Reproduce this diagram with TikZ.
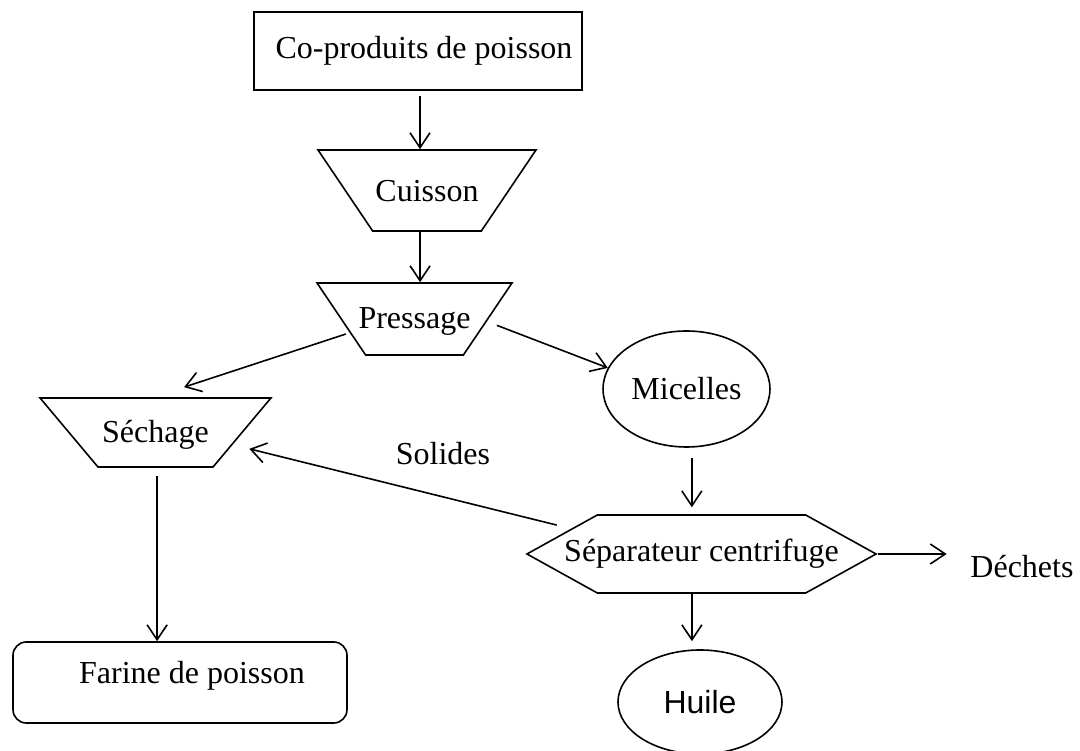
\documentclass[tikz,border=0pt]{standalone}
\usepackage{fontspec}
\setmainfont{Liberation Serif}
\newfontfamily\arialfont{Liberation Sans}
\usetikzlibrary{shapes.geometric,shapes.symbols,arrows.meta}

\begin{document}
\begin{tikzpicture}[x=0.375pt,y=-0.375pt,line width=0.6pt,
		every node/.style={font=\fontsize{12}{14}\selectfont},
		proc/.style={draw,trapezium,shape border rotate=180,trapezium stretches body,inner sep=0pt},
		flow/.style={-{Straight Barb[length=5.6pt,width=7.5pt]}}]
		\useasboundingbox (0,0) rectangle (1080,751);
		\node [draw,minimum width=123pt,minimum height=29.25pt,inner sep=0pt] (cop) at (418,51) {\hspace*{4.5pt}Co-produits de poisson};
		\node [proc,minimum width=81.75pt,text height=19.5pt,text depth=10.9pt,trapezium angle=56] (cuis) at (427,190.5) {Cuisson};
		\node [proc,minimum width=73.1pt,inner xsep=-3pt,text height=16.9pt,text depth=10.1pt,trapezium angle=56] (press) at (414.5,319) {Pressage};
		\node [proc,minimum width=86.6pt,text height=16.55pt,text depth=9.35pt,trapezium angle=50] (sech) at (155.5,432.5) {Séchage};
		\node [draw,ellipse,minimum width=62.6pt,minimum height=43.5pt,inner sep=0pt] (mic) at (686.5,389) {Micelles};
		\node [draw,signal,signal to=east and west,signal pointer angle=58,minimum height=29.25pt,inner ysep=0pt,inner xsep=-12.4pt] (sep) at (701.5,554) {Séparateur centrifuge};
		\node [draw,ellipse,minimum width=61.5pt,minimum height=39pt,inner sep=0pt,font=\arialfont\fontsize{12}{14}\selectfont] (huile) at (700,702) {Huile};
		\node [draw,rounded corners=5pt,minimum width=125.25pt,minimum height=30.4pt,inner sep=0pt,text height=8pt,text depth=6.9pt] (far) at (180,682.5) {\hspace*{9pt}Farine de poisson};
		\node (dech) at (1022,567) {Déchets};
		\node (sol) at (443,454) {Solides};
		\draw [flow,shorten <=2pt] ([xshift=0.75pt]cop.south) -- ([xshift=0.75pt]cop.south |- cuis.north);
		\draw [flow] ([xshift=-2.6pt]cuis.south) -- ([xshift=-2.6pt]cuis.south |- press.north);
		\draw [flow,shorten <=1.5pt] (press.192) -- ([xshift=10.7pt,yshift=3.75pt]sech.north);
		\draw [flow,shorten <=4pt] (press.-2) -- (mic.165);
		\draw [flow,shorten <=4pt,shorten >=2.6pt] ([xshift=2pt]mic.south) -- ([xshift=2pt]mic.south |- sep.north);
		\draw [flow,shorten <=5.6pt,shorten >=6.4pt] (sep.169) -- (sech.-9.5);
		\draw [flow,shorten >=5.3pt] (sep.east) -- (sep.east -| dech.west);
		\draw [flow,shorten >=3pt] ([xshift=-3.6pt]sep.south) -- ([xshift=-3.6pt]sep.south |- huile.north);
		\draw [flow,shorten <=3pt] ([xshift=0.6pt]sech.south) -- ([xshift=0.6pt]sech.south |- far.north);
\end{tikzpicture}
\end{document}
